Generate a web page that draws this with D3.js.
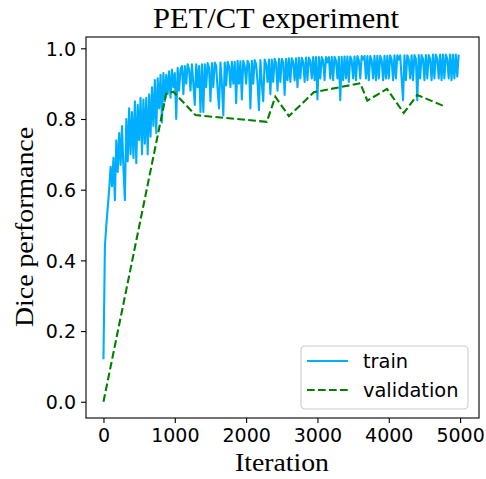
<!DOCTYPE html>
<html>
<head>
<meta charset="utf-8">
<script src="https://cdn.jsdelivr.net/npm/d3@7"></script>
<style>
  body { margin: 0; background: #fff; }
  .tick text { font-family: "DejaVu Sans", sans-serif; font-size: 19px; fill: #000; }
  .serif { font-family: "Liberation Serif", "DejaVu Serif", serif; fill: #000; }
</style>
</head>
<body>
<svg id="chart" width="486" height="479"></svg>
<script>

// training dice, logged every trainStep iterations (one row = 500 iterations)
var trainStep = 20;
var trainDice = [
  0.12, 0.44, 0.50, 0.55, 0.60, 0.665, 0.61, 0.69, 0.57, 0.74, 0.65, 0.76, 0.67, 0.78, 0.66, 0.57, 0.80, 0.68, 0.83, 0.70, 0.82, 0.69, 0.85, 0.675, 0.84,
  0.74, 0.86, 0.70, 0.855, 0.73, 0.86, 0.70, 0.87, 0.75, 0.89, 0.78, 0.91, 0.76, 0.915, 0.83, 0.925, 0.79, 0.93, 0.85, 0.925, 0.87, 0.935, 0.86, 0.94, 0.89,
  0.93, 0.80, 0.945, 0.88, 0.94, 0.95, 0.87, 0.95, 0.90, 0.955, 0.94, 0.88, 0.955, 0.90, 0.84, 0.955, 0.89, 0.95, 0.82, 0.955, 0.82, 0.955, 0.89, 0.958, 0.945,
  0.85, 0.958, 0.89, 0.96, 0.95, 0.885, 0.83, 0.96, 0.90, 0.81, 0.96, 0.895, 0.962, 0.95, 0.89, 0.962, 0.90, 0.962, 0.845, 0.965, 0.90, 0.963, 0.855, 0.965, 0.95,
  0.90, 0.965, 0.955, 0.83, 0.965, 0.90, 0.967, 0.955, 0.905, 0.825, 0.967, 0.90, 0.85, 0.968, 0.955, 0.905, 0.968, 0.87, 0.968, 0.905, 0.97, 0.958, 0.88, 0.97, 0.905,
  0.97, 0.96, 0.868, 0.97, 0.91, 0.972, 0.905, 0.972, 0.96, 0.91, 0.972, 0.89, 0.973, 0.915, 0.973, 0.962, 0.905, 0.974, 0.91, 0.974, 0.963, 0.915, 0.975, 0.91, 0.975,
  0.855, 0.975, 0.915, 0.975, 0.965, 0.91, 0.975, 0.96, 0.975, 0.915, 0.976, 0.91, 0.976, 0.965, 0.915, 0.976, 0.853, 0.976, 0.91, 0.977, 0.915, 0.977, 0.905, 0.977, 0.966,
  0.915, 0.977, 0.91, 0.978, 0.966, 0.915, 0.978, 0.968, 0.978, 0.915, 0.978, 0.91, 0.978, 0.966, 0.915, 0.979, 0.91, 0.979, 0.915, 0.979, 0.967, 0.91, 0.979, 0.915, 0.979,
  0.915, 0.98, 0.968, 0.91, 0.98, 0.915, 0.98, 0.968, 0.98, 0.915, 0.853, 0.98, 0.91, 0.98, 0.968, 0.915, 0.98, 0.91, 0.981, 0.97, 0.853, 0.981, 0.915, 0.981, 0.97,
  0.91, 0.981, 0.915, 0.981, 0.97, 0.91, 0.982, 0.915, 0.982, 0.97, 0.915, 0.982, 0.91, 0.982, 0.915, 0.982, 0.97, 0.915, 0.982, 0.91, 0.982, 0.915, 0.982, 0.92, 0.982
];

var valIter = [0, 880, 980, 1290, 2290, 2410, 2600, 2950, 3600, 3700, 3975, 4210, 4400, 4790];
var valDice = [0.0, 0.872, 0.877, 0.811, 0.792, 0.863, 0.808, 0.876, 0.901, 0.852, 0.885, 0.817, 0.868, 0.835];

var xTicks = [0, 1000, 2000, 3000, 4000, 5000];
var yTicks = [0.0, 0.2, 0.4, 0.6, 0.8, 1.0];

var titleText = "PET/CT experiment";
var xLabel = "Iteration";
var yLabel = "Dice performance";
var legendNames = ["train", "validation"];

var trainColor = "#00aeff";
var valColor = "#008000";

var margin = {left: 86, right: 7, top: 37, bottom: 61};
var width = 486, height = 479;

var svg = d3.select("#chart");

var x = d3.scaleLinear()
  .domain([-245, 5265])
  .range([margin.left, width - margin.right]);

var y = d3.scaleLinear()
  .domain([-0.046, 1.032])
  .range([height - margin.bottom, margin.top]);

var trainPts = trainDice.map(function (d, i) { return [i * trainStep, d]; });
var valPts = valIter.map(function (d, i) { return [d, valDice[i]]; });

var line = d3.line()
  .x(function (d) { return x(d[0]); })
  .y(function (d) { return y(d[1]); });

svg.append("path")
  .datum(trainPts)
  .attr("d", line)
  .attr("fill", "none")
  .attr("stroke", trainColor)
  .attr("stroke-width", 2.1)
  .attr("stroke-linejoin", "round");

svg.append("path")
  .datum(valPts)
  .attr("d", line)
  .attr("fill", "none")
  .attr("stroke", valColor)
  .attr("stroke-width", 2.1)
  .attr("stroke-dasharray", "7.7,3.3");

// axes
var xAxis = d3.axisBottom(x).tickValues(xTicks).tickSizeOuter(0).tickSize(5).tickPadding(6).tickFormat(d3.format("d"));
var yAxis = d3.axisLeft(y).tickValues(yTicks).tickSizeOuter(0).tickSize(5).tickPadding(5).tickFormat(d3.format(".1f"));

var gx = svg.append("g")
  .attr("transform", "translate(0," + (height - margin.bottom) + ")")
  .call(xAxis);
var gy = svg.append("g")
  .attr("transform", "translate(" + margin.left + ",0)")
  .call(yAxis);

[gx, gy].forEach(function (g) {
  g.select(".domain").remove();
  g.selectAll(".tick line").attr("stroke", "#000").attr("stroke-width", 1.1);
});
gy.selectAll(".tick text").attr("dy", "0.36em");

// frame
svg.append("rect")
  .attr("x", margin.left)
  .attr("y", margin.top)
  .attr("width", width - margin.left - margin.right)
  .attr("height", height - margin.top - margin.bottom)
  .attr("fill", "none")
  .attr("stroke", "#000")
  .attr("stroke-width", 1.1);

// title and labels
svg.append("text")
  .attr("class", "serif")
  .attr("x", 276)
  .attr("y", 28)
  .attr("text-anchor", "middle")
  .attr("font-size", 29)
  .attr("textLength", 246)
  .attr("lengthAdjust", "spacingAndGlyphs")
  .text(titleText);

svg.append("text")
  .attr("class", "serif")
  .attr("x", 282)
  .attr("y", 471)
  .attr("text-anchor", "middle")
  .attr("font-size", 26)
  .attr("textLength", 94)
  .attr("lengthAdjust", "spacingAndGlyphs")
  .text(xLabel);

svg.append("text")
  .attr("class", "serif")
  .attr("transform", "translate(33,227) rotate(-90)")
  .attr("text-anchor", "middle")
  .attr("font-size", 26)
  .attr("textLength", 200)
  .attr("lengthAdjust", "spacingAndGlyphs")
  .text(yLabel);

// legend
var legend = svg.append("g").attr("transform", "translate(301,346)");

legend.append("rect")
  .attr("width", 167)
  .attr("height", 63)
  .attr("rx", 4)
  .attr("fill", "#fff")
  .attr("fill-opacity", 0.8)
  .attr("stroke", "#cccccc")
  .attr("stroke-width", 1.1);

var items = [
  {name: legendNames[0], color: trainColor, dash: null},
  {name: legendNames[1], color: valColor, dash: "7.7,3.3"}
];

items.forEach(function (it, i) {
  var ly = 15 + i * 29;
  legend.append("line")
    .attr("x1", 6).attr("x2", 47)
    .attr("y1", ly).attr("y2", ly)
    .attr("stroke", it.color)
    .attr("stroke-width", 2.1)
    .attr("stroke-dasharray", it.dash);
  legend.append("text")
    .attr("x", 62)
    .attr("y", ly + 7)
    .attr("font-family", "DejaVu Sans, sans-serif")
    .attr("font-size", 19.4)
    .text(it.name);
});

</script>
</body>
</html>
